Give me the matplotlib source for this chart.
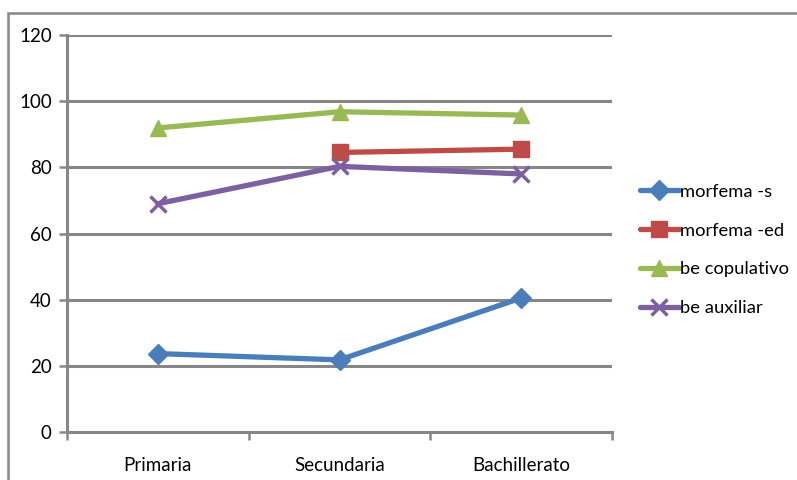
import matplotlib.pyplot as plt
import matplotlib.patches as mpatches
import numpy as np

# data
niveles = ['Primaria', 'Secundaria', 'Bachillerato']
morfema_s = [23.7, 21.8, 40.5]
morfema_ed = [np.nan, 84.5, 85.5]
be_copulativo = [91.9, 96.8, 95.8]
be_auxiliar = [69.0, 80.3, 78.0]

series = [
    ('morfema -s', morfema_s, '#4A7EBB', 'D', 10),
    ('morfema -ed', morfema_ed, '#BE4B48', 's', 11),
    ('be copulativo', be_copulativo, '#98B954', '^', 12),
    ('be auxiliar', be_auxiliar, '#7D60A0', 'x', 11),
]

plt.rcParams['font.family'] = ['Lato', 'DejaVu Sans']
grey = '#878787'

fig = plt.figure(figsize=(7.97, 4.8), dpi=100)
ax = fig.add_axes([67 / 797, 1 - 432 / 480, (612 - 67) / 797, (432 - 35) / 480])

# outer chart frame (cut off at right and bottom in the original)
fig.patches.append(mpatches.Rectangle((8 / 797, -0.1), 1.2, 1 - 13 / 480 + 0.1,
                                      transform=fig.transFigure, fill=False,
                                      edgecolor=grey, linewidth=1.8))

x = np.arange(len(niveles))
for name, vals, color, marker, ms in series:
    mew = 2.5 if marker == 'x' else 1
    ax.plot(x, vals, color=color, linewidth=3.8, marker=marker, markersize=ms,
            markeredgewidth=mew, label=name, solid_capstyle='round', zorder=3)

ax.set_ylim(0, 120)
ax.set_yticks(np.arange(0, 121, 20))
ax.set_xlim(-0.5, 2.5)
ax.set_xticks([-0.5, 0.5, 1.5, 2.5])
ax.set_xticklabels([])
ax.set_xticks(x, minor=True)
ax.set_xticklabels(niveles, minor=True)
ax.tick_params(axis='x', which='minor', length=0, pad=18, labelsize=13.5)
ax.tick_params(axis='x', which='major', length=6, width=1.8, color=grey, direction='out')
ax.tick_params(axis='y', length=6, width=1.8, color=grey, labelsize=13.5, pad=5)

ax.grid(axis='y', color=grey, linewidth=2.2, zorder=1)
for s in ['top', 'right']:
    ax.spines[s].set_visible(False)
for s in ['left', 'bottom']:
    ax.spines[s].set_color(grey)
    ax.spines[s].set_linewidth(2.2)

ax.legend(loc='center left', bbox_to_anchor=(640 / 797, 1 - 250 / 480),
          bbox_transform=fig.transFigure, frameon=False, fontsize=13.2,
          handlelength=2.1, handletextpad=0.1, labelspacing=1.25, borderaxespad=0,
          borderpad=0)

fig.savefig('out.png', dpi=100)
